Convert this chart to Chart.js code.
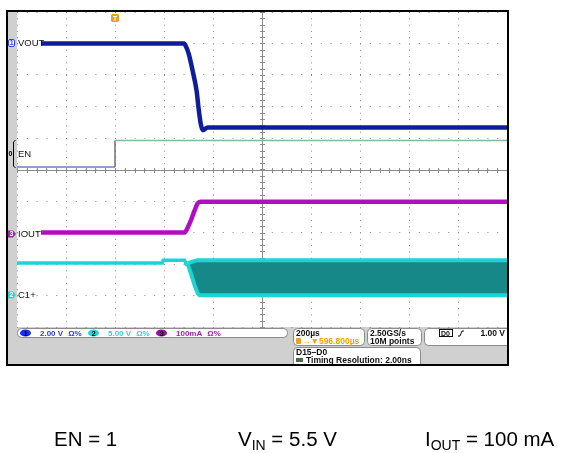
<!DOCTYPE html>
<html>
<head>
<meta charset="utf-8">
<script src="https://cdn.jsdelivr.net/npm/chart.js@4.4.1/dist/chart.umd.min.js"></script>
<style>
html, body { margin: 0; padding: 0; background: #fff; }
#wrap { width: 561px; height: 453px; }
</style>
</head>
<body>
<div id="wrap"><canvas id="scope" width="561" height="453"></canvas></div>
<script>
// x = time in µs (trigger at 0, 200 µs/div), y = screen divisions (0 = bottom of graticule)
const xMin = -400, xMax = 1600, xStep = 200;
const yMin = 0, yMax = 10, yStep = 1;
const triggerTime = 0;

const voutTime = [-302, 282, 290, 301, 317, 333, 341, 350, 358, 378, 1600];
const voutDiv  = [9.0, 9.0, 8.9, 8.67, 8.13, 7.5, 6.95, 6.45, 6.25, 6.33, 6.33];

const enTime = [-400, 0, 0, 1600];
const enDiv  = [5.08, 5.08, 5.92, 5.92];

const ioutTime = [-302, 284, 297, 313, 325, 337, 349, 1600];
const ioutDiv  = [3.0, 3.0, 3.16, 3.45, 3.70, 3.92, 3.98, 3.98];

const c1Time = [-400, 193, 197, 284, 290, 297];
const c1Div  = [2.03, 2.03, 2.12, 2.12, 2.0, 2.02];

const c1EnvTime = [297, 313, 325, 337, 345, 1600];
const c1HighDiv = [2.02, 2.07, 2.10, 2.12, 2.12, 2.12];
const c1LowDiv  = [2.0, 1.62, 1.32, 1.08, 1.01, 1.01];

const chanNames  = ["VOUT", "EN", "IOUT", "C1+"];
const chanIds    = ["1", "0", "3", "2"];
const chanLevels = [9.0, 5.5, 2.95, 1.01];

const chanReadout = [["1", "2.00 V", "#2a3ae0", "#1830e8"], ["2", "5.00 V", "#38d0d0", "#30d0d0"], ["3", "100mA", "#a020b0", "#9010a0"]];
const captions = [
    [54, [["EN = 1", false]]],
    [238, [["V", false], ["IN", true], [" = 5.5 V", false]]],
    [425, [["I", false], ["OUT", true], [" = 100 mA", false]]]
];

const pts = (xs, ys) => xs.map((x, i) => ({ x, y: ys[i] }));
const FONT = "Liberation Sans, Arial, sans-serif";

function roundRect(ctx, x, y, w, h, r, fill, stroke) {
    ctx.beginPath();
    ctx.roundRect(x, y, w, h, r);
    if (fill) { ctx.fillStyle = fill; ctx.fill(); }
    if (stroke) { ctx.strokeStyle = stroke; ctx.lineWidth = 1; ctx.stroke(); }
}

const scopeFrame = {
    id: "scopeFrame",
    beforeDraw(chart) {
        const { ctx, chartArea: a } = chart;
        ctx.save();
        ctx.fillStyle = "#fff";
        ctx.fillRect(0, 0, chart.width, chart.height);
        ctx.fillStyle = "#d0d0d0";
        ctx.fillRect(8, 12, 500, 353);
        ctx.fillStyle = "#fff";
        ctx.fillRect(a.left, a.top, a.right - a.left, a.bottom - a.top);
        ctx.restore();
    },
    beforeDatasetsDraw(chart) {
        // center crosshair with minor ticks
        const { ctx, chartArea: a, scales: { x, y } } = chart;
        const cx = Math.round(x.getPixelForValue((xMin + xMax) / 2)) + 0.5;
        const cy = Math.round(y.getPixelForValue((yMin + yMax) / 2)) + 0.5;
        ctx.save();
        ctx.strokeStyle = "#8c8c8c";
        ctx.lineWidth = 1;
        ctx.beginPath();
        ctx.moveTo(a.left, cy); ctx.lineTo(a.right, cy);
        ctx.moveTo(cx, a.top); ctx.lineTo(cx, a.bottom);
        for (let t = xMin; t <= xMax; t += xStep / 5) {
            const px = Math.round(x.getPixelForValue(t)) + 0.5;
            ctx.moveTo(px, cy - 2.5); ctx.lineTo(px, cy + 2.5);
        }
        for (let v = yMin; v <= yMax; v += yStep / 5) {
            const py = Math.round(y.getPixelForValue(v)) + 0.5;
            ctx.moveTo(cx - 2.5, py); ctx.lineTo(cx + 2.5, py);
        }
        ctx.stroke();
        ctx.restore();
    },
    afterDraw(chart) {
        const { ctx, chartArea: a, scales: { x, y } } = chart;
        ctx.save();

        // trigger marker
        const tx = Math.round(x.getPixelForValue(triggerTime));
        roundRect(ctx, tx - 4, a.top + 2, 8, 8, 1.5, "#f0a020");
        ctx.fillStyle = "#fff";
        ctx.fillRect(tx - 2, a.top + 4, 4, 1);
        ctx.fillRect(tx - 0.5, a.top + 4, 1, 5);

        // channel markers + labels
        ctx.textBaseline = "middle";
        chanNames.forEach((name, i) => {
            const py = Math.round(y.getPixelForValue(chanLevels[i]));
            ctx.font = "bold 7px " + FONT;
            if (i === 0) {
                roundRect(ctx, 8.5, py - 3.5, 6, 7, 1.5, "#fff", "#2a3ae0");
                ctx.fillStyle = "#2a3ae0";
                ctx.fillText(chanIds[i], 9.8, py + 0.5);
            } else if (i === 1) {
                ctx.fillStyle = "#000";
                ctx.fillText(chanIds[i], 8.5, py + 0.5);
                const y1 = Math.round(y.getPixelForValue(enDiv[3])) - 1;
                const y2 = Math.round(y.getPixelForValue(enDiv[0])) + 1;
                ctx.strokeStyle = "#000";
                ctx.lineWidth = 1;
                ctx.beginPath();
                ctx.moveTo(15.5, y1); ctx.lineTo(13.5, y1 + 2);
                ctx.lineTo(13.5, y2 - 2); ctx.lineTo(15.5, y2);
                ctx.stroke();
            } else {
                const col = i === 2 ? "#a020b0" : "#30d0d0";
                ctx.beginPath();
                ctx.moveTo(8, py - 3.5); ctx.lineTo(13, py - 3.5); ctx.lineTo(16, py);
                ctx.lineTo(13, py + 3.5); ctx.lineTo(8, py + 3.5); ctx.closePath();
                ctx.fillStyle = col; ctx.fill();
                ctx.fillStyle = "#fff";
                ctx.fillText(chanIds[i], 9.5, py + 0.5);
            }
            ctx.fillStyle = "#111";
            ctx.font = "9.5px " + FONT;
            ctx.fillText(name, 18, py + 0.5);
        });

        // readout area (clipped to the screen frame)
        ctx.beginPath();
        ctx.rect(8, 12, 499, 352);
        ctx.clip();
        ctx.textBaseline = "alphabetic";

        roundRect(ctx, 17.5, 328.5, 270, 9, 4, "#fff", "#8a8a8a");
        let ox = 20;
        chanReadout.forEach(([id, txt, tcol, ocol]) => {
            ctx.beginPath();
            ctx.ellipse(ox + 5.5, 333, 5.5, 3.6, 0, 0, Math.PI * 2);
            ctx.fillStyle = ocol; ctx.fill();
            ctx.fillStyle = "#000";
            ctx.font = "bold 7px " + FONT;
            ctx.fillText(id, ox + 3.7, 335.5);
            ctx.fillStyle = tcol;
            ctx.font = "bold 8px " + FONT;
            ctx.fillText(txt, ox + 20, 336);
            const w = ctx.measureText(txt).width;
            ctx.fillText("Ω%", ox + 20 + w + 5, 336);
            ox += 68;
        });

        roundRect(ctx, 293.5, 328.5, 71, 17, 4, "#fff", "#8a8a8a");
        roundRect(ctx, 367.5, 328.5, 54, 17, 4, "#fff", "#8a8a8a");
        roundRect(ctx, 424.5, 328.5, 100, 17, 4, "#fff", "#8a8a8a");
        roundRect(ctx, 293.5, 347.5, 127, 22, 4, "#fff", "#8a8a8a");

        ctx.font = "bold 8.5px " + FONT;
        ctx.fillStyle = "#111";
        ctx.fillText("200µs", 296, 336);
        roundRect(ctx, 296, 338, 5, 6, 1, "#f0a020");
        ctx.fillStyle = "#f0a000";
        ctx.fillText("→▼596.800µs", 302, 344);
        ctx.fillStyle = "#111";
        ctx.fillText("2.50GS/s", 370, 336);
        ctx.fillText("10M points", 370, 344);
        ctx.strokeStyle = "#111";
        ctx.lineWidth = 1;
        ctx.strokeRect(439.5, 329.5, 13, 7);
        ctx.font = "bold 7px " + FONT;
        ctx.fillText("D0", 441, 335.5);
        ctx.font = "bold 8.5px " + FONT;
        ctx.beginPath();
        ctx.moveTo(458, 336); ctx.lineTo(460, 336); ctx.lineTo(462, 331); ctx.lineTo(464, 331);
        ctx.stroke();
        ctx.textAlign = "right";
        ctx.fillText("1.00 V", 505, 336);
        ctx.textAlign = "left";
        ctx.fillText("D15–D0", 296, 355);
        ctx.fillStyle = "#4a6a4a";
        ctx.fillRect(296, 358, 7, 4);
        ctx.fillStyle = "#111";
        ctx.fillText("Timing Resolution: 2.00ns", 306, 363);
        ctx.restore();

        // black frame
        ctx.save();
        ctx.strokeStyle = "#000";
        ctx.lineWidth = 2;
        ctx.strokeRect(7, 11, 501, 354);
        ctx.restore();

        // captions under the screen
        ctx.save();
        ctx.fillStyle = "#000";
        ctx.textBaseline = "alphabetic";
        captions.forEach(([cx0, parts]) => {
            let cx = cx0;
            parts.forEach(([txt, sub]) => {
                ctx.font = (sub ? "14px " : "20.5px ") + FONT;
                ctx.fillText(txt, cx, sub ? 450 : 446);
                cx += ctx.measureText(txt).width;
            });
        });
        ctx.restore();
    }
};

new Chart(document.getElementById("scope"), {
    type: "line",
    data: {
        datasets: [
            {
                label: "VOUT", data: pts(voutTime, voutDiv),
                borderColor: "#0f1c9c", borderWidth: 4.5, cubicInterpolationMode: "monotone"
            },
            {
                label: "IOUT", data: pts(ioutTime, ioutDiv),
                borderColor: "#b40cc4", borderWidth: 4.5, cubicInterpolationMode: "monotone"
            },
            {
                label: "EN", data: pts(enTime, enDiv),
                borderColor: "#6f8fbf", borderWidth: 1.5,
                segment: {
                    borderColor: c => c.p0.parsed.y > 5.5 && c.p1.parsed.y > 5.5 ? "#80bc9c"
                        : c.p0.parsed.y !== c.p1.parsed.y ? "#707070" : "#6384b8"
                }
            },
            {
                label: "C1+", data: pts(c1Time, c1Div),
                borderColor: "#1cd4d4", borderWidth: 3.5
            },
            {
                label: "C1+ high", data: pts(c1EnvTime, c1HighDiv),
                borderColor: "#1cd4d4", borderWidth: 4
            },
            {
                label: "C1+ low", data: pts(c1EnvTime, c1LowDiv),
                borderColor: "#1cd4d4", borderWidth: 4,
                fill: "-1", backgroundColor: "#178888"
            }
        ]
    },
    options: {
        responsive: false,
        animation: false,
        layout: { padding: { left: 17, top: 12, right: 54, bottom: 126 } },
        elements: { point: { radius: 0 }, line: { tension: 0 } },
        plugins: { legend: { display: false }, tooltip: { enabled: false } },
        scales: {
            x: {
                type: "linear", min: xMin, max: xMax,
                ticks: { display: false, stepSize: xStep },
                grid: { color: "#8a8a8a", lineWidth: 1, drawTicks: false },
                border: { display: false, dash: [1, 5.3] }
            },
            y: {
                type: "linear", min: yMin, max: yMax,
                ticks: { display: false, stepSize: yStep },
                grid: { color: "#8a8a8a", lineWidth: 1, drawTicks: false },
                border: { display: false, dash: [1, 8.8] }
            }
        }
    },
    plugins: [scopeFrame]
});
</script>
</body>
</html>
